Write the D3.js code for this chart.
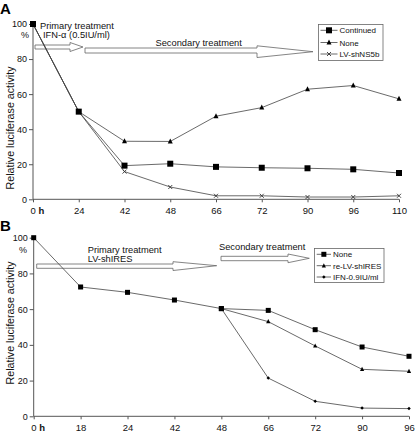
<!DOCTYPE html>
<html><head><meta charset="utf-8">
<script src="https://cdn.jsdelivr.net/npm/d3@7"></script>
<style>body{margin:0;background:#fff}svg{display:block;font-family:"Liberation Sans",Arial,sans-serif}</style>
</head><body><svg id="c" width="416" height="433"></svg>
<script>
// ---- Panel A data ----
const hoursA = ["0","24","42","48","66","72","90","96","110"];
const continuedA = [100,50,19.2,20.3,18.5,18,17.7,17.1,15];
const noneA = [100,50,33.1,33,47.4,52.3,62.8,64.9,57.3];
const lvNS5bA = [100,50,15.8,7,2,2,1.3,1.3,2];
// ---- Panel B data ----
const hoursB = ["0","18","24","42","48","66","72","90","96"];
const primaryBHours = ["0","18","24","42","48"];
const primaryB = [100,72.4,69.4,65.1,60.3];
const secBHours = ["48","66","72","90","96"];
const noneB = [60.3,59.3,48.5,38.8,33.6];
const reLVB = [60.3,53,39.4,26.3,25.2];
const ifnB = [60.3,21.4,8.4,4.6,4.3];
const yTicks = [0,20,40,60,80,100];

const svg = d3.select("#c");
const lineCol = "#444";

function panel(cfg){
  const g = svg.append("g");
  const x = d3.scalePoint().domain(cfg.cats).range([cfg.x0, cfg.x1]);
  const y = d3.scaleLinear().domain([0,100]).range([cfg.yb, cfg.yt]);
  // y axis
  const ya = g.append("g").attr("transform",`translate(${cfg.x0},0)`)
    .call(d3.axisLeft(y).tickValues(yTicks).tickSize(4).tickPadding(2));
  ya.select(".domain").attr("stroke","#555").attr("d",`M-0,${cfg.yb}V${cfg.yt}`);
  ya.selectAll(".tick line").attr("stroke","#555");
  ya.selectAll("text").attr("font-size",9).attr("font-family","Liberation Sans, Arial").attr("fill","#111");
  // x axis
  const xa = g.append("g").attr("transform",`translate(0,${cfg.yb})`)
    .call(d3.axisBottom(x).tickSize(3).tickPadding(5));
  xa.select(".domain").attr("stroke","#555").attr("d",`M${cfg.x0},0H${cfg.x1}`);
  xa.selectAll(".tick line").attr("stroke","#555");
  xa.selectAll("text").attr("font-size",9.5).attr("font-family","Liberation Sans, Arial").attr("fill","#111");
  xa.selectAll(".tick").filter(d=>d==="0").select("text").text(null)
    .call(t=>{t.append("tspan").text("0 ");t.append("tspan").attr("font-weight","bold").text("h");})
    .attr("text-anchor","start").attr("x",-3);
  // % label
  g.append("text").attr("x",cfg.pctX).attr("y",cfg.pctY).attr("font-size",9).attr("text-anchor","middle").attr("fill","#111").text("%");
  // y title
  g.append("text").attr("transform",`translate(${cfg.titleX},${cfg.titleY}) rotate(-90)`)
    .attr("text-anchor","middle").attr("font-size",10.7).attr("fill","#111").text("Relative luciferase activity");
  // panel letter
  g.append("text").attr("x",0).attr("y",cfg.letterY).attr("font-size",15).attr("font-weight","bold").attr("font-family","Liberation Sans, Arial").text(cfg.letter);
  return {g,x,y};
}

function series(p, cats, vals, marker){
  const pts = cats.map((c,i)=>[p.x(c), p.y(vals[i])]);
  p.g.append("path").attr("d", d3.line()(pts)).attr("fill","none").attr("stroke",lineCol).attr("stroke-width",0.8);
  drawMarkers(p.g, pts, marker);
}
function drawMarkers(g, pts, m){
  pts.forEach(([px,py])=>drawMarker(g,px,py,m));
}
function drawMarker(g,px,py,m){
  if(m.type==="square"){
    g.append("rect").attr("x",px-m.s/2).attr("y",py-m.s/2).attr("width",m.s).attr("height",m.s).attr("fill","#000");
  } else if(m.type==="tri"){
    const s=m.s;
    g.append("path").attr("d",`M${px},${py-s*0.6}L${px+s/2},${py+s*0.4}L${px-s/2},${py+s*0.4}Z`).attr("fill","#000");
  } else if(m.type==="cross"){
    const s=m.s/2;
    g.append("path").attr("d",`M${px-s},${py-s}L${px+s},${py+s}M${px-s},${py+s}L${px+s},${py-s}`).attr("stroke","#333").attr("stroke-width",0.9);
  } else if(m.type==="dot"){
    g.append("path").attr("d",`M${px},${py-m.s/2}L${px+m.s/2},${py}L${px},${py+m.s/2}L${px-m.s/2},${py}Z`).attr("fill","#000");
  }
}
function arrow(g,a){
  const ym=a.tipY;
  g.append("path").attr("d",`M${a.x0},${a.yT}H${a.x1}V${a.hT}L${a.xt},${ym}L${a.x1},${a.hB}V${a.yB}H${a.x0}Z`)
    .attr("fill","#fff").attr("stroke","#666").attr("stroke-width",0.8);
}
function legend(g,box,items){
  g.append("rect").attr("x",box.x).attr("y",box.y).attr("width",box.w).attr("height",box.h).attr("fill","#fff").attr("stroke","#666").attr("stroke-width",0.8);
  items.forEach((it,i)=>{
    const yy = box.ey[i];
    g.append("line").attr("x1",box.lx0).attr("x2",box.lx1).attr("y1",yy).attr("y2",yy).attr("stroke",lineCol).attr("stroke-width",0.8);
    drawMarker(g,(box.lx0+box.lx1)/2,yy,it.m);
    g.append("text").attr("x",box.tx).attr("y",yy+3).attr("font-size",box.fs).attr("fill","#111").text(it.label);
  });
}

// ---------- Panel A ----------
const A = panel({cats:hoursA,x0:33,x1:399,yt:24,yb:199.3,pctX:25,pctY:37.5,titleX:13.5,titleY:128,letter:"A",letterY:14});
arrow(A.g,{x0:35,x1:70,xt:83,yT:45,yB:49,hT:42.5,hB:51.5,tipY:47});
arrow(A.g,{x0:85,x1:257,xt:313,yT:48,yB:53,hT:45.8,hB:57.5,tipY:51.7});
A.g.append("text").attr("x",40).attr("y",28.5).attr("font-size",9.3).attr("fill","#111").text("Primary treatment");
A.g.append("text").attr("x",43).attr("y",37.5).attr("font-size",9.3).attr("fill","#111").text("IFN-α (0.5IU/ml)");
A.g.append("text").attr("x",155.5).attr("y",46).attr("font-size",9.3).attr("fill","#111").text("Secondary treatment");
const mCont={type:"square",s:6}, mNone={type:"tri",s:5}, mLV={type:"cross",s:4};
series(A,hoursA,lvNS5bA,mLV);
series(A,hoursA,noneA,mNone);
series(A,hoursA,continuedA,mCont);
legend(A.g,{x:318.5,y:24.5,w:64.5,h:36,ey:[30.3,42.5,54],lx0:320.5,lx1:337.5,tx:339.5,fs:8},
  [{label:"Continued",m:mCont},{label:"None",m:mNone},{label:"LV-shNS5b",m:mLV}]);

// ---------- Panel B ----------
const B = panel({cats:hoursB,x0:33.7,x1:409,yt:237.7,yb:416.3,pctX:23,pctY:253,titleX:14,titleY:323,letter:"B",letterY:231});
arrow(B.g,{x0:36.7,x1:173,xt:216.7,yT:264,yB:268.3,hT:261.7,hB:270.5,tipY:265.7});
arrow(B.g,{x0:221,x1:288,xt:309.3,yT:256.3,yB:260.7,hT:254,hB:262.7,tipY:258.3});
B.g.append("text").attr("x",87.7).attr("y",252.5).attr("font-size",9.3).attr("fill","#111").text("Primary treatment");
B.g.append("text").attr("x",87.7).attr("y",261.5).attr("font-size",9.3).attr("fill","#111").text("LV-shIRES");
B.g.append("text").attr("x",219).attr("y",250).attr("font-size",9.3).attr("fill","#111").text("Secondary treatment");
const mNoneB={type:"square",s:5}, mRe={type:"tri",s:4.2}, mIfn={type:"dot",s:3.5};
series(B,primaryBHours,primaryB,mNoneB);
series(B,secBHours,ifnB,mIfn);
series(B,secBHours,reLVB,mRe);
series(B,secBHours,noneB,mNoneB);
legend(B.g,{x:314.5,y:248.5,w:69.5,h:34,ey:[254.3,265.7,277],lx0:316.7,lx1:331,tx:333,fs:8},
  [{label:"None",m:mNoneB},{label:"re-LV-shIRES",m:mRe},{label:"IFN-0.9IU/ml",m:mIfn}]);
</script></body></html>
